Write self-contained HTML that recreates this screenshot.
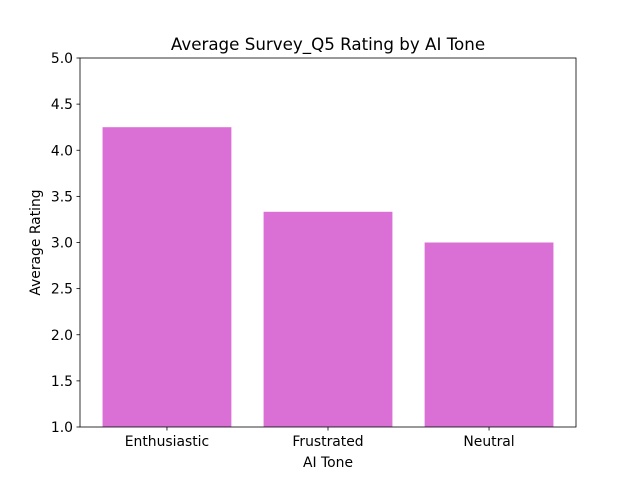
<!DOCTYPE html>
<html><head><meta charset="utf-8"><style>
body{margin:0;background:#fff;}
svg{display:block;font-family:"DejaVu Sans","Liberation Sans",sans-serif;}
</style></head><body>
<svg id="chart" width="640" height="480"></svg>
<script>
const categories=["Enthusiastic","Frustrated","Neutral"];
const values=[4.25,3.333,3.0];
const yTicks=[1.0,1.5,2.0,2.5,3.0,3.5,4.0,4.5,5.0];
const L=80,R=576,T=58,B=427,yMin=1,yMax=5;
const xMin=-0.54,xMax=categories.length-1+0.54;
const xs=v=>L+(v-xMin)/(xMax-xMin)*(R-L);
const ys=v=>B-(v-yMin)/(yMax-yMin)*(B-T);
const svg=document.getElementById('chart');
const NS="http://www.w3.org/2000/svg";
function mk(tag,attrs,text){const e=document.createElementNS(NS,tag);for(const k in attrs)e.setAttribute(k,attrs[k]);if(text!==undefined)e.textContent=text;svg.appendChild(e);return e;}
values.forEach((v,i)=>{
 const x0=xs(i-0.4),x1=xs(i+0.4);
 const r=mk('rect',{x:x0,y:ys(v),width:x1-x0,height:B-ys(v),fill:'#DA70D6'});
 
 
 mk('line',{x1:xs(i),x2:xs(i),y1:B,y2:B+3.5,stroke:'#000','stroke-width':0.8});
 const t=mk('text',{x:xs(i),y:B+19,'text-anchor':'middle','font-size':13.9},categories[i]);
 
 
});
yTicks.forEach(v=>{
 mk('line',{x1:L-3.5,x2:L,y1:ys(v),y2:ys(v),stroke:'#000','stroke-width':0.8});
 const t=mk('text',{x:L-7,y:ys(v)+5,'text-anchor':'end','font-size':13.9},v.toFixed(1));
 
 
});
const f=mk('rect',{x:L,y:T,width:R-L,height:B-T,fill:'none',stroke:'#000','stroke-width':0.8});


const tt=mk('text',{x:(L+R)/2,y:50,'text-anchor':'middle','font-size':16.7},'Average Survey_Q5 Rating by AI Tone');


const xt=mk('text',{x:(L+R)/2,y:467,'text-anchor':'middle','font-size':13.9},'AI Tone');


const yt=mk('text',{x:40,y:(T+B)/2,'text-anchor':'middle','font-size':13.9,transform:'rotate(-90 40 '+((T+B)/2)+')'},'Average Rating');


</script>
</body></html>
